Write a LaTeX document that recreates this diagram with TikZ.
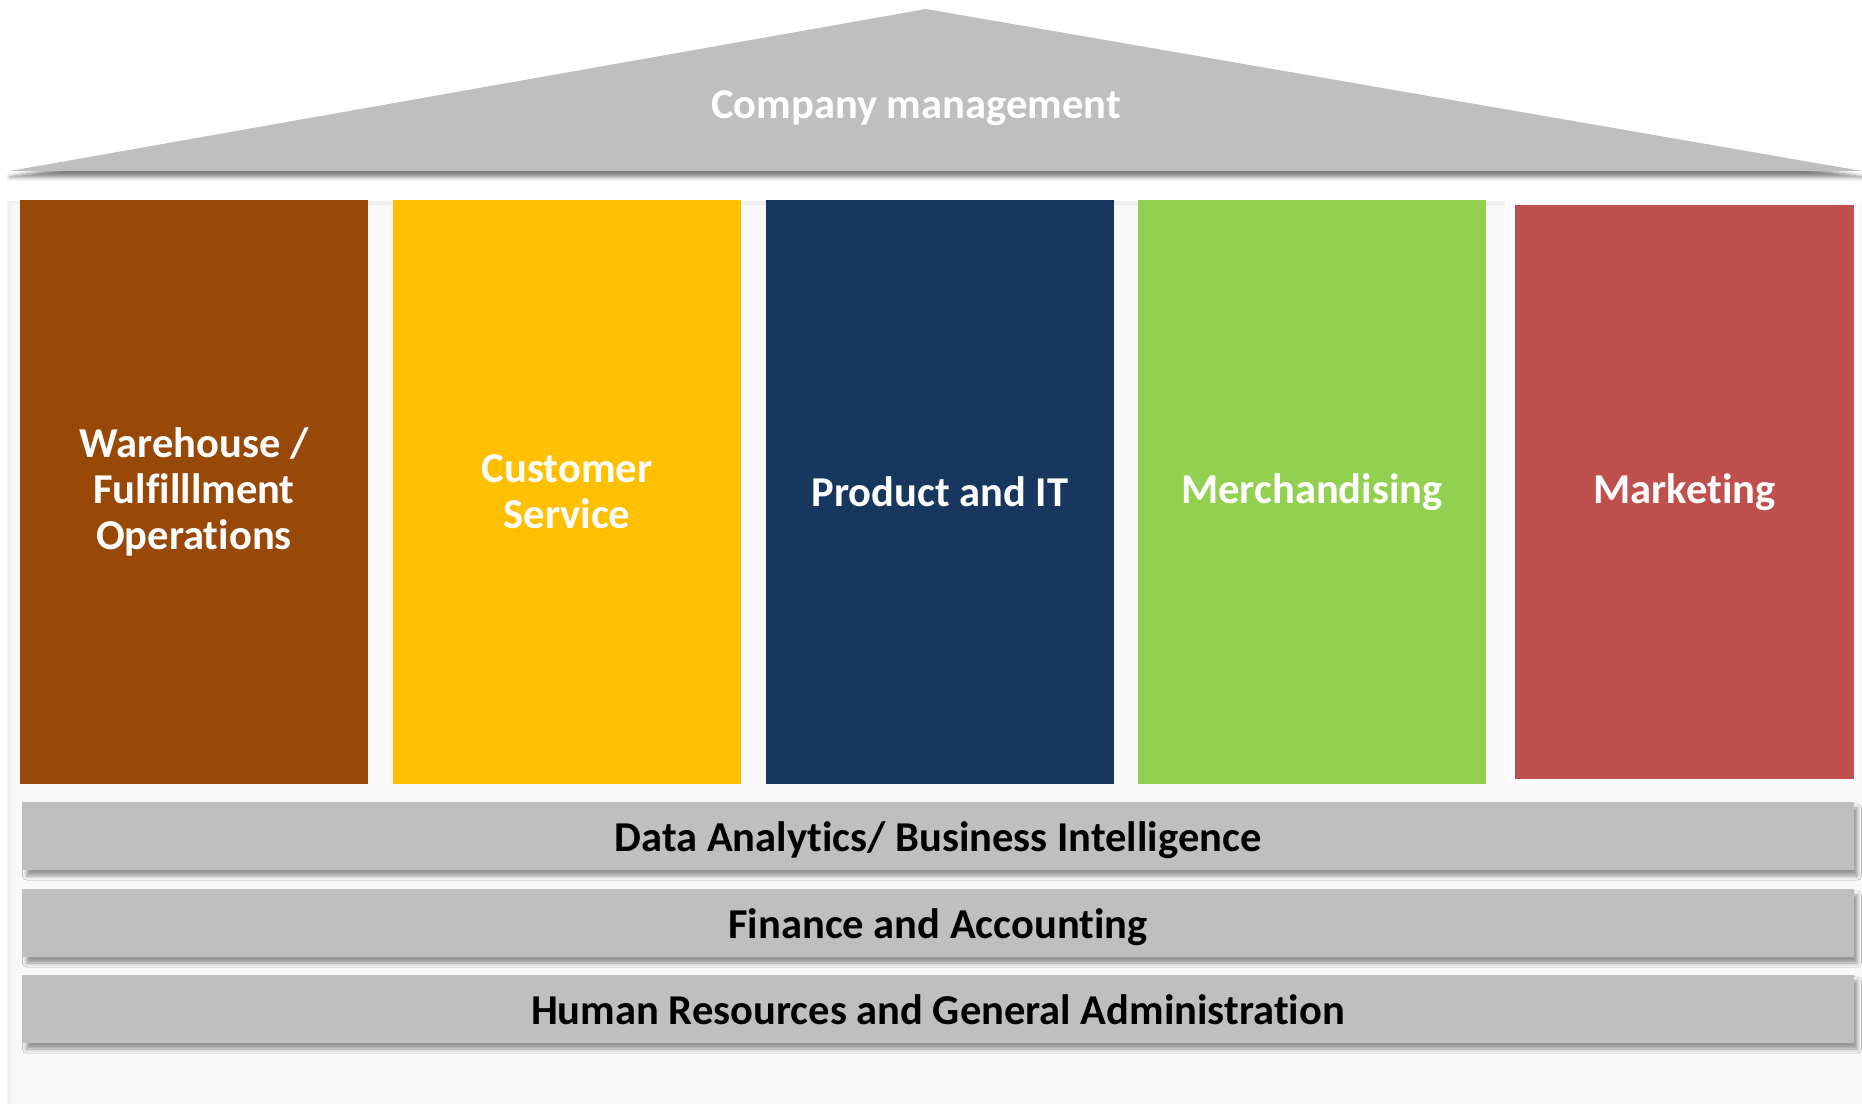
\documentclass[tikz,border=0pt]{standalone}
\usepackage{fontspec}
\setmainfont{Carlito}[Ligatures=NoCommon]
\usepackage{tikz}
\usetikzlibrary{shadows.blur}
\definecolor{roofgrey}{HTML}{BFBFBF}
\definecolor{panelgrey}{HTML}{F9F9F9}
\definecolor{panelline}{HTML}{F0F0F0}
\definecolor{rust}{HTML}{984807}
\definecolor{amber}{HTML}{FFC000}
\definecolor{navy}{HTML}{17375E}
\definecolor{leaf}{HTML}{92D050}
\definecolor{brick}{HTML}{C0504D}
\tikzset{
  pillar/.style={rectangle,inner sep=0pt,minimum width=3.48cm,minimum height=5.83cm,
    text=white,align=center,font=\bfseries\fontsize{12.1}{13.1}\selectfont},
  floor/.style={rectangle,inner sep=0pt,minimum width=18.3cm,minimum height=0.68cm,
    fill=roofgrey,text height=9.6pt,text depth=0.6pt,font=\bfseries\fontsize{12.1}{14}\selectfont,
    blur shadow={shadow xshift=0.04cm,shadow yshift=-0.06cm,shadow blur radius=0.04cm,shadow opacity=40}}
}

\begin{document}
\begin{tikzpicture}[x=0.01cm,y=-0.01cm]
  \useasboundingbox (0,0) rectangle (1862,1104);
  % backdrop behind the pillars
  \fill[panelgrey] (7,201) rectangle (1862,1104);
  \fill[panelline] (7,201) rectangle (11,1104);
  \fill[panelline] (7,201) rectangle (1505,205);
  % roof
  \fill[roofgrey,blur shadow={shadow xshift=0cm,shadow yshift=-0.06cm,shadow blur radius=0.04cm,shadow opacity=50}]
    (10,171) -- (926,9) -- (1862,171) -- cycle;
  \node[text=white,font=\bfseries\fontsize{12.1}{14}\selectfont] (mgmt) at (916,108) {Company management};
  % pillars
  \node[pillar,fill=rust] (wh) at (194,492) {Warehouse /\\Fulfilllment\\Operations};
  \node[pillar,fill=amber] (cs) at (567,492) {Customer\\Service};
  \node[pillar,fill=navy] (pit) at (940,492) {Product and IT};
  \node[pillar,fill=leaf] (mer) at (1312,492) {Merchandising};
  \node[pillar,fill=brick,minimum width=3.43cm,minimum height=5.78cm,
    draw=white,line width=0.04cm] (mkt) at (1684.5,492) {Marketing};
  % floors
  \node[floor] (bi) at (938,836) {Data Analytics/ Business Intelligence};
  \node[floor] (fin) at (938,923) {Finance and Accounting};
  \node[floor] (hr) at (938,1009) {Human Resources and General Administration};
\end{tikzpicture}
\end{document}
